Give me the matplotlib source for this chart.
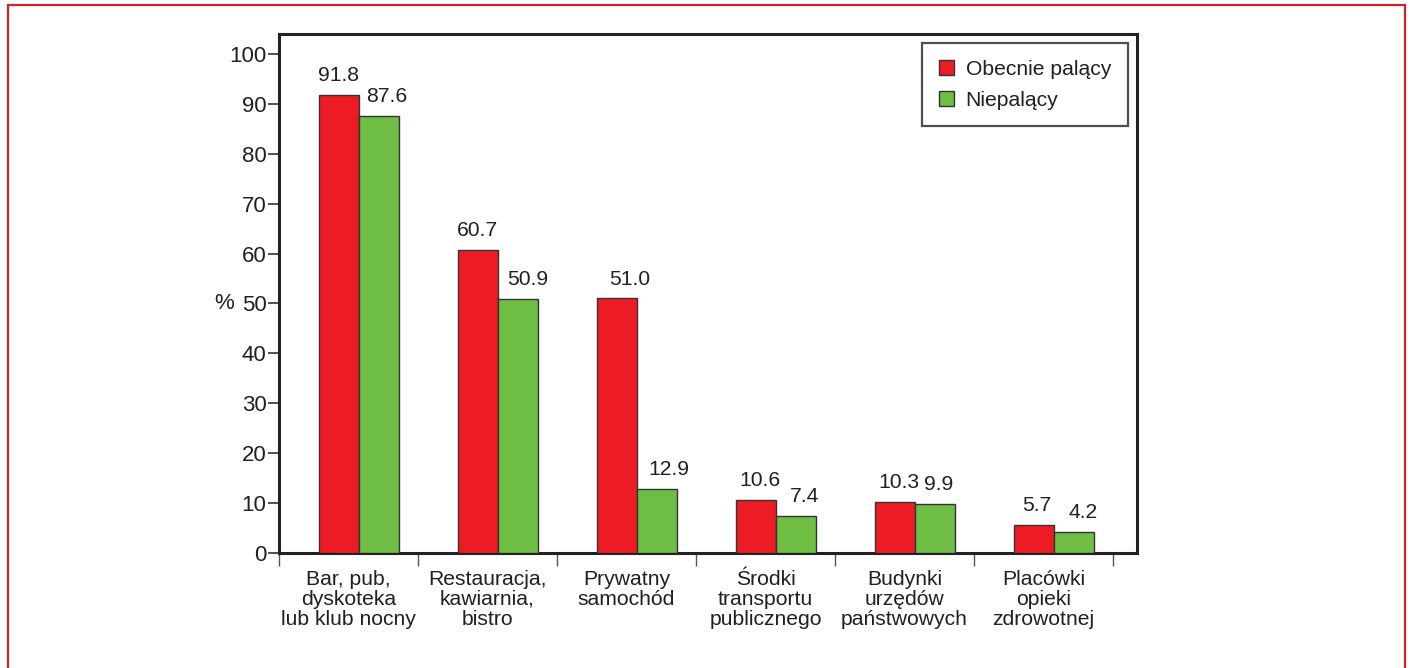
import matplotlib
matplotlib.use("Agg")
import matplotlib.pyplot as plt
import matplotlib.transforms as mtransforms
from matplotlib.patches import Rectangle, Patch
import numpy as np

plt.rcParams['font.family'] = ['Liberation Sans', 'DejaVu Sans']

categories = [
    "Bar, pub,\ndyskoteka\nlub klub nocny",
    "Restauracja,\nkawiarnia,\nbistro",
    "Prywatny\nsamochód",
    "Środki\ntransportu\npublicznego",
    "Budynki\nurzędów\npaństwowych",
    "Placówki\nopieki\nzdrowotnej",
]
smokers = [91.8, 60.7, 51.0, 10.6, 10.3, 5.7]
non_smokers = [87.6, 50.9, 12.9, 7.4, 9.9, 4.2]
series_names = ["Obecnie palący", "Niepalący"]
yticks = [0, 10, 20, 30, 40, 50, 60, 70, 80, 90, 100]

# horizontal nudges (pixels) of the value labels over each bar
smokers_label_dx = [0, 0, 13, 4, 3.5, 2.5]
non_smokers_label_dx = [8, 9.5, 12, 9, 4, 9]

RED = "#ED1C24"
GREEN = "#6FBE44"
EDGE = "#333333"
INK = "#231F20"

fig = plt.figure(figsize=(14.10, 6.68), dpi=100)
ax = fig.add_axes([279 / 1410, 1 - 553 / 668, 858 / 1410, 519 / 668])

x = np.arange(len(categories))
w = 0.288
shift = 0.0755
ax.bar(x + shift - w / 2, smokers, width=w, color=RED, edgecolor=EDGE, linewidth=1.0, zorder=3)
ax.bar(x + shift + w / 2, non_smokers, width=w, color=GREEN, edgecolor=EDGE, linewidth=1.0, zorder=3)

PX = 0.72  # points per pixel at 100 dpi
for xi, v, dx in zip(x, smokers, smokers_label_dx):
    ax.annotate(f"{v:.1f}", (xi + shift - w / 2, v), xytext=(dx * PX, 7), textcoords="offset points",
                ha="center", va="bottom", fontsize=15.2, color=INK)
for xi, v, dx in zip(x, non_smokers, non_smokers_label_dx):
    ax.annotate(f"{v:.1f}", (xi + shift + w / 2, v), xytext=(dx * PX, 7), textcoords="offset points",
                ha="center", va="bottom", fontsize=15.2, color=INK)

ax.set_ylim(0, 104.0)
ax.set_xlim(-0.5, -0.5 + 858 / 139)

ax.set_yticks(yticks)
ax.set_yticklabels([str(t) for t in yticks], fontsize=16, color=INK)
ax.tick_params(axis="y", direction="out", length=8, width=1.2, pad=1, colors="#333333", labelcolor=INK)

# boundaries between categories as major ticks, names as minor tick labels
ax.set_xticks(np.arange(len(categories) + 1) - 0.5)
ax.set_xticklabels([])
ax.tick_params(axis="x", which="major", direction="out", length=9, width=1.0, colors="#555555")
ax.set_xticks(x, minor=True)
ax.set_xticklabels(categories, minor=True, fontsize=15.2, color=INK, linespacing=1.08)
ax.tick_params(axis="x", which="minor", length=0, pad=12)

for side in ["left", "right", "top", "bottom"]:
    ax.spines[side].set_linewidth(2.2)
    ax.spines[side].set_color("#222222")

ax.text(-0.052, 50, "%", transform=mtransforms.blended_transform_factory(ax.transAxes, ax.transData),
        ha="right", va="center", fontsize=16, color=INK)

handles = [Patch(facecolor=RED, edgecolor=EDGE, linewidth=1.0),
           Patch(facecolor=GREEN, edgecolor=EDGE, linewidth=1.0)]
leg = ax.legend(handles, series_names, loc="upper right", bbox_to_anchor=(1128 / 1410, 1 - 43 / 668),
                bbox_transform=fig.transFigure, fontsize=15.2, frameon=True, fancybox=False,
                handlelength=0.72, handleheight=0.72, handletextpad=0.55, labelspacing=0.55,
                borderpad=0.8, borderaxespad=0)
leg.get_frame().set_edgecolor("#222222")
leg.get_frame().set_linewidth(1.6)
for t in leg.get_texts():
    t.set_color(INK)

# red page frame
fig.patches.append(Rectangle((8 / 1410, -0.05), (1405 - 8) / 1410, 1.05 - 5 / 668,
                             transform=fig.transFigure, fill=False, edgecolor="#D2232A",
                             linewidth=1.6, zorder=10))

fig.savefig("out.png", dpi=100)
